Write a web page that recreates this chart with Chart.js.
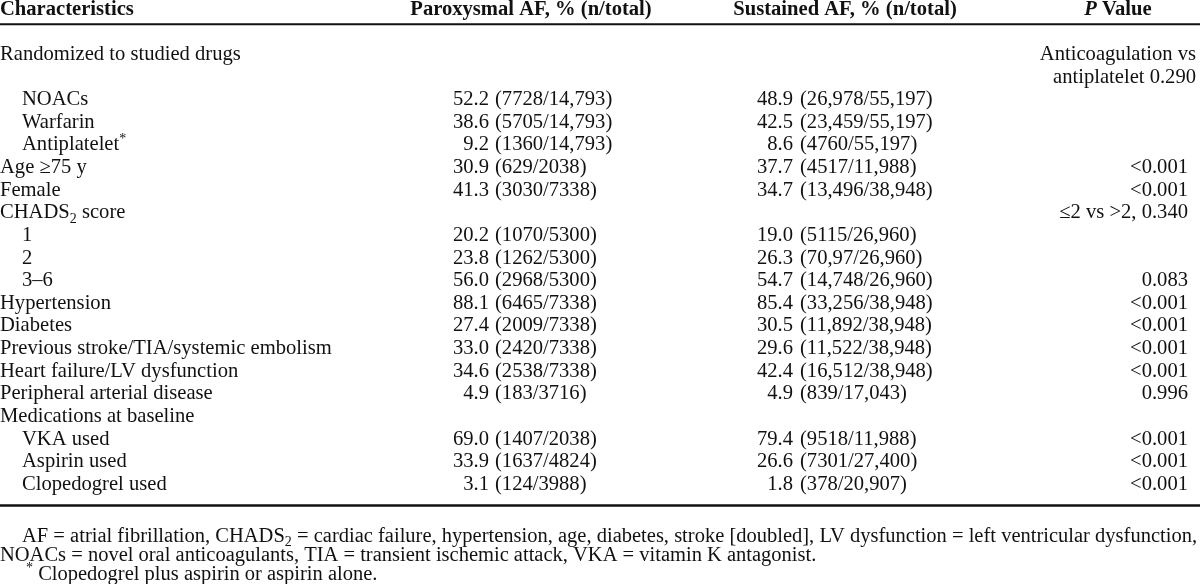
<!DOCTYPE html>
<html>
<head>
<meta charset="utf-8">
<title>Paroxysmal vs sustained AF - baseline characteristics</title>
<script src="https://cdn.jsdelivr.net/npm/chart.js@4.4.1/dist/chart.umd.min.js"></script>
<style>
  html, body { margin: 0; padding: 0; background: #fff; }
  #wrap { width: 1200px; height: 584px; }
</style>
</head>
<body>
<div id="wrap"><canvas id="tableChart" width="1200" height="584"></canvas></div>
<script>
// table contents (markup: _{} subscript, ^{} superscript, ~{} italic)
var headers = ["Characteristics", "Paroxysmal AF, % (n/total)", "Sustained AF, % (n/total)", "~{P} Value"];
var rowLabels = [
  "Randomized to studied drugs", "", "NOACs", "Warfarin", "Antiplatelet^{*}",
  "Age \u226575 y", "Female", "CHADS_{2} score", "1", "2", "3\u20136",
  "Hypertension", "Diabetes", "Previous stroke/TIA/systemic embolism",
  "Heart failure/LV dysfunction", "Peripheral arterial disease",
  "Medications at baseline", "VKA used", "Aspirin used", "Clopedogrel used"
];
var rowLevel = [0, 0, 1, 1, 1, 0, 0, 0, 1, 1, 1, 0, 0, 0, 0, 0, 0, 1, 1, 1];
var paroxPct = [null, null, 52.2, 38.6, 9.2, 30.9, 41.3, null, 20.2, 23.8, 56.0,
  88.1, 27.4, 33.0, 34.6, 4.9, null, 69.0, 33.9, 3.1];
var paroxN = [null, null, "7728/14,793", "5705/14,793", "1360/14,793", "629/2038", "3030/7338", null,
  "1070/5300", "1262/5300", "2968/5300", "6465/7338", "2009/7338", "2420/7338", "2538/7338",
  "183/3716", null, "1407/2038", "1637/4824", "124/3988"];
var sustPct = [null, null, 48.9, 42.5, 8.6, 37.7, 34.7, null, 19.0, 26.3, 54.7,
  85.4, 30.5, 29.6, 42.4, 4.9, null, 79.4, 26.6, 1.8];
var sustN = [null, null, "26,978/55,197", "23,459/55,197", "4760/55,197", "4517/11,988", "13,496/38,948", null,
  "5115/26,960", "70,97/26,960", "14,748/26,960", "33,256/38,948", "11,892/38,948", "11,522/38,948",
  "16,512/38,948", "839/17,043", null, "9518/11,988", "7301/27,400", "378/20,907"];
var pValues = [null, null, null, null, null, "<0.001", "<0.001", "\u22642 vs >2, 0.340", null, null, "0.083",
  "<0.001", "<0.001", "<0.001", "<0.001", "0.996", null, "<0.001", "<0.001", "<0.001"];
var pNotes = ["Anticoagulation vs", "antiplatelet 0.290"];
var footnotes = [
  "AF = atrial fibrillation, CHADS_{2} = cardiac failure, hypertension, age, diabetes, stroke [doubled], LV dysfunction = left ventricular dysfunction,",
  "NOACs = novel oral anticoagulants, TIA = transient ischemic attack, VKA = vitamin K antagonist.",
  "^{*} Clopedogrel plus aspirin or aspirin alone."
];

var FAMILY = '"Liberation Serif", "Times New Roman", serif';
var BODY = 20.6, NOTE = 20.5, INK = "#111";

function cells(values, x, fmt) {
  var out = [];
  values.forEach(function (v, i) {
    if (v === null || v === "") return;
    out.push({ x: typeof x === "function" ? x(i) : x, y: i, t: fmt ? fmt(v) : String(v) });
  });
  return out;
}

function parseRich(s) {
  var segs = [], re = /([_^~])\{([^}]*)\}/g, last = 0, m;
  while ((m = re.exec(s))) {
    if (m.index > last) segs.push({ t: s.slice(last, m.index), k: "" });
    segs.push({ t: m[2], k: m[1] });
    last = re.lastIndex;
  }
  if (last < s.length) segs.push({ t: s.slice(last), k: "" });
  return segs;
}
function segFont(k, size, bold) {
  var sz = (k === "_" || k === "^") ? Math.round(size * 0.7) : size;
  return (k === "~" ? "italic " : "") + (bold ? "bold " : "") + sz + "px " + FAMILY;
}
function richWidth(ctx, s, size, bold) {
  var w = 0;
  parseRich(s).forEach(function (seg) {
    ctx.font = segFont(seg.k, size, bold);
    w += ctx.measureText(seg.t).width;
  });
  return w;
}
function drawRich(ctx, s, x, y, align, size, bold) {
  var w = richWidth(ctx, s, size, bold);
  var cx = align === "right" ? x - w : align === "center" ? x - w / 2 : x;
  ctx.textAlign = "left";
  ctx.textBaseline = "alphabetic";
  parseRich(s).forEach(function (seg) {
    ctx.font = segFont(seg.k, size, bold);
    var dy = seg.k === "_" ? size * 0.22 : seg.k === "^" ? -size * 0.38 : 0;
    ctx.fillText(seg.t, cx, y + dy);
    cx += ctx.measureText(seg.t).width;
  });
}
function drawJustified(ctx, s, x, y, right, size) {
  var words = s.split(" ");
  var widths = words.map(function (w) { return richWidth(ctx, w, size, false); });
  var total = widths.reduce(function (a, b) { return a + b; }, 0);
  var gap = (right - x - total) / (words.length - 1);
  var cx = x;
  words.forEach(function (w, i) {
    drawRich(ctx, w, cx, y, "left", size, false);
    cx += widths[i] + gap;
  });
}

var tablePlugin = {
  id: "tableText",
  afterDatasetsDraw: function (chart) {
    var ctx = chart.ctx, xs = chart.scales.x, ys = chart.scales.y;
    ctx.save();
    ctx.fillStyle = INK;
    ctx.strokeStyle = INK;
    // rules under the header and at the bottom of the body
    [[-1.58, 1.8], [19.69, 2.6]].forEach(function (r) {
      var y = ys.getPixelForValue(r[0]);
      ctx.lineWidth = r[1];
      ctx.beginPath();
      ctx.moveTo(xs.getPixelForValue(0), y);
      ctx.lineTo(xs.getPixelForValue(1200), y);
      ctx.stroke();
    });
    chart.data.datasets.forEach(function (ds, di) {
      var meta = chart.getDatasetMeta(di);
      meta.data.forEach(function (pt, j) {
        var cell = ds.data[j];
        var align = Array.isArray(ds.align) ? ds.align[j] : ds.align;
        if (ds.justify && j === 0) {
          drawJustified(ctx, cell.t, pt.x, pt.y, xs.getPixelForValue(ds.justify), ds.size);
        } else {
          drawRich(ctx, cell.t, pt.x, pt.y, align, ds.size, ds.bold);
        }
      });
    });
    ctx.restore();
  }
};

var datasets = [
  { label: "header", data: headers.map(function (h, i) { return { x: [0, 531, 845, 1118][i], y: -2, t: h }; }),
    align: ["left", "center", "center", "center"], size: BODY, bold: true },
  { label: "characteristic", data: cells(rowLabels, function (i) { return rowLevel[i] * 22; }), align: "left", size: BODY },
  { label: "paroxysmal %", data: cells(paroxPct, 489, function (v) { return v.toFixed(1); }), align: "right", size: BODY },
  { label: "paroxysmal n", data: cells(paroxN, 495, function (v) { return "(" + v + ")"; }), align: "left", size: BODY },
  { label: "sustained %", data: cells(sustPct, 793, function (v) { return v.toFixed(1); }), align: "right", size: BODY },
  { label: "sustained n", data: cells(sustN, 800, function (v) { return "(" + v + ")"; }), align: "left", size: BODY },
  { label: "p value", data: cells(pValues, 1188), align: "right", size: BODY },
  { label: "p note", data: cells(pNotes, 1196), align: "right", size: BODY },
  { label: "footnotes", data: footnotes.map(function (f, i) { return { x: [22, 0, 26][i], y: [21.29, 22.14, 22.98][i], t: f }; }),
    align: "left", size: NOTE, justify: 1197 }
];
datasets.forEach(function (d) { d.pointRadius = 0; d.showLine = false; d.clip = false; });

new Chart(document.getElementById("tableChart"), {
  type: "scatter",
  data: { datasets: datasets },
  options: {
    responsive: false,
    animation: false,
    events: [],
    layout: { padding: 0 },
    plugins: { legend: { display: false }, tooltip: { enabled: false } },
    scales: {
      x: { type: "linear", min: 0, max: 1200, display: false },
      y: { type: "linear", min: -2.651, max: 23.16, reverse: true, display: false }
    }
  },
  plugins: [tablePlugin]
});
</script>
</body>
</html>
